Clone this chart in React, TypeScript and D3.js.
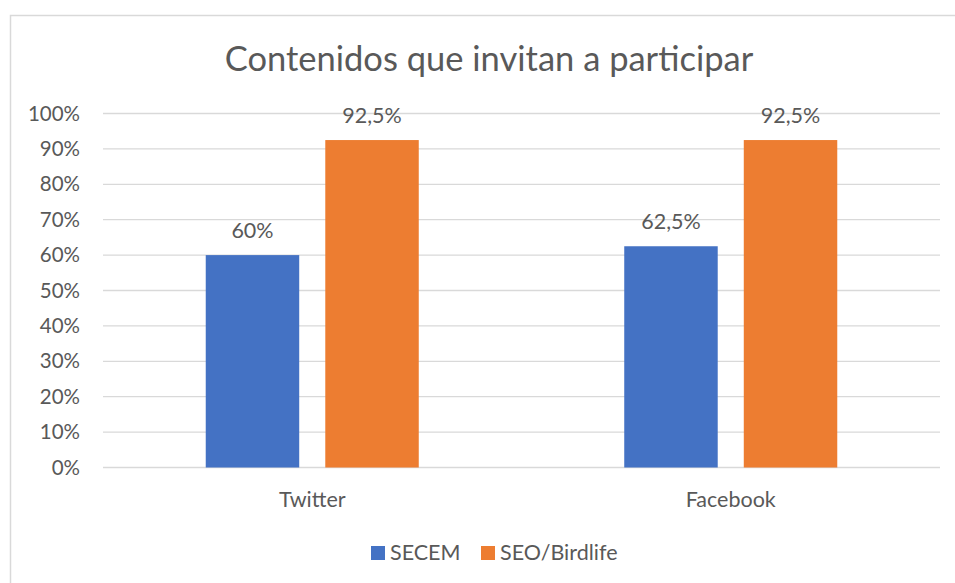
import React, { useEffect, useRef } from 'react';
import * as d3 from 'd3';

const categories = ['Twitter', 'Facebook'];
const seriesNames = ['SECEM', 'SEO/Birdlife'];
const secemValues = [0.6, 0.625];
const seoValues = [0.925, 0.925];
const valueLabels = [['60%', '92,5%'], ['62,5%', '92,5%']];
const yTicks = [0, 0.1, 0.2, 0.3, 0.4, 0.5, 0.6, 0.7, 0.8, 0.9, 1];

const colors = ['#4472c4', '#ed7d31'];
const textColor = '#595959';
const font = 'Lato, "Open Sans", sans-serif';
const labelSize = 21.5;

const App = () => {
  const svgRef = useRef(null);
  const width = 955;
  const height = 583;
  const plot = { left: 103, right: 940, top: 113.5, bottom: 467.5 };

  useEffect(() => {
    const svg = d3.select(svgRef.current);
    svg.selectAll('*').remove();

    // chart frame
    svg.append('rect')
      .attr('x', 10.5).attr('y', 15.5)
      .attr('width', 1000).attr('height', 1000)
      .attr('fill', 'white')
      .attr('stroke', '#d9d9d9').attr('stroke-width', 1.5);

    svg.append('text')
      .attr('x', 489).attr('y', 71)
      .attr('text-anchor', 'middle')
      .attr('font-family', font).attr('font-size', 34.5)
      .attr('fill', textColor)
      .text('Contenidos que invitan a participar');

    const x0 = d3.scaleBand()
      .domain(categories)
      .range([plot.left, plot.right])
      .paddingInner(0.491).paddingOuter(0.2455);

    const x1 = d3.scaleBand()
      .domain(seriesNames)
      .range([0, x0.bandwidth()])
      .paddingInner(0.218).paddingOuter(0);

    const y = d3.scaleLinear().domain([0, 1]).range([plot.bottom, plot.top]);

    // gridlines
    svg.append('g').selectAll('line')
      .data(yTicks)
      .enter().append('line')
      .attr('x1', plot.left).attr('x2', plot.right)
      .attr('y1', d => y(d)).attr('y2', d => y(d))
      .attr('stroke', '#d9d9d9').attr('stroke-width', 1.3);

    // y labels
    svg.append('g').selectAll('text')
      .data(yTicks)
      .enter().append('text')
      .attr('x', 80).attr('y', d => y(d))
      .attr('dy', '0.35em')
      .attr('text-anchor', 'end')
      .attr('font-family', font).attr('font-size', 20.5)
      .attr('fill', textColor)
      .text(d => `${Math.round(d * 100)}%`);

    const rows = categories.map((c, i) => ({
      cat: c,
      vals: [secemValues[i], seoValues[i]],
      labels: valueLabels[i],
    }));

    const groups = svg.append('g').selectAll('g')
      .data(rows)
      .enter().append('g')
      .attr('transform', d => `translate(${x0(d.cat)},0)`);

    groups.selectAll('rect')
      .data(d => d.vals.map((v, j) => ({ key: seriesNames[j], v, j })))
      .enter().append('rect')
      .attr('x', d => x1(d.key))
      .attr('y', d => y(d.v))
      .attr('width', x1.bandwidth())
      .attr('height', d => y(0) - y(d.v))
      .attr('fill', d => colors[d.j]);

    groups.selectAll('text.lbl')
      .data(d => d.vals.map((v, j) => ({ key: seriesNames[j], v, label: d.labels[j] })))
      .enter().append('text')
      .attr('class', 'lbl')
      .attr('x', d => x1(d.key) + x1.bandwidth() / 2)
      .attr('y', d => y(d.v) - 17)
      .attr('text-anchor', 'middle')
      .attr('font-family', font).attr('font-size', labelSize)
      .attr('fill', textColor)
      .text(d => d.label);

    // category labels
    svg.append('g').selectAll('text')
      .data(categories)
      .enter().append('text')
      .attr('x', d => x0(d) + x0.bandwidth() / 2)
      .attr('y', 507)
      .attr('text-anchor', 'middle')
      .attr('font-family', font).attr('font-size', labelSize)
      .attr('fill', textColor)
      .text(d => d);

    // legend
    const legendX = [371, 481];
    const legend = svg.append('g').selectAll('g')
      .data(seriesNames)
      .enter().append('g')
      .attr('transform', (d, i) => `translate(${legendX[i]},546)`);
    legend.append('rect')
      .attr('width', 14).attr('height', 14)
      .attr('fill', (d, i) => colors[i]);
    legend.append('text')
      .attr('x', 19).attr('y', 14)
      .attr('font-family', font).attr('font-size', labelSize)
      .attr('fill', textColor)
      .text(d => d);
  }, []);

  return (
    <svg ref={svgRef} width={width} height={height}
      style={{ position: 'absolute', left: 0, top: 0, background: 'white' }} />
  );
};

export default App;
